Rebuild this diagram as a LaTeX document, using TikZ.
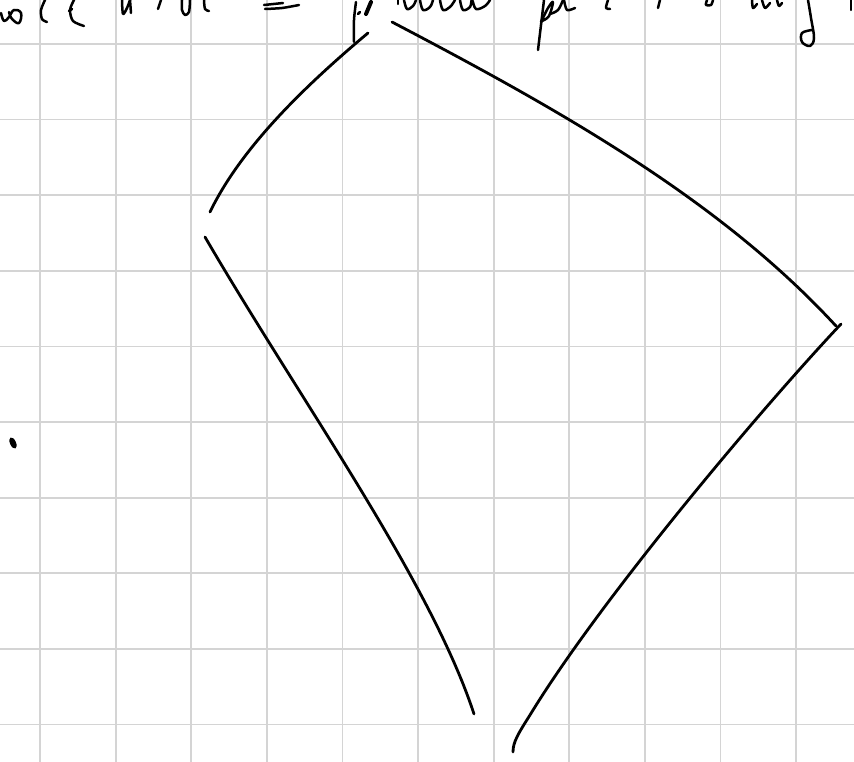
\documentclass[tikz,border=0pt]{standalone}
\begin{document}
\begin{tikzpicture}[x=1pt,y=-1pt,
  gridline/.style={draw={rgb,255:red,212;green,212;blue,212},line width=1.8pt},
  ink/.style={draw=black,line width=2.8pt,line cap=round,line join=round},
  pen/.style={draw=black,line width=2.5pt,line cap=round,line join=round}]
\useasboundingbox (0,0) rectangle (854,762);
\fill[white] (0,0) rectangle (854,762);
% grid
\foreach \k in {0,...,10} {\draw[gridline] ({40+75.6*\k},0) -- ({40+75.6*\k},762);}
\foreach \k in {0,...,9} {\draw[gridline] (0,{44+75.6*\k}) -- (854,{44+75.6*\k});}
% main strokes
\draw[ink] (368,33) .. controls (300,90) and (240,150) .. (210,212);
\draw[ink] (392,22) .. controls (560,110) and (720,200) .. (836,326);
\draw[ink] (205,237) .. controls (300,400) and (430,580) .. (474,714);
\draw[ink] (841,324) .. controls (760,410) and (600,600) .. (530,715) .. controls (518,734) and (513,742) .. (513,752);
% dot
\fill[black,rotate around={25:(13,443)}] (13,443) ellipse (3pt and 6pt);
% handwriting fragments (cropped at top)
\draw[pen] plot[smooth,tension=0.7] coordinates {(1,13) (4,21) (9,17) (14,10) (21,13) (19,23) (12,19) (9,12)};
\draw[pen] plot[smooth] coordinates {(45,0) (41,10) (42,19) (47,22)};
\draw[pen] plot[smooth] coordinates {(69,11) (72,9)};
\draw[pen] plot[smooth] coordinates {(74,0) (70,10) (73,21) (84,26)};
\draw[pen] plot[smooth,tension=0.5] coordinates {(122,0) (123,14) (127,8) (130,0)};
\draw[pen] (130,0) -- (131,13);
\draw[pen] (161,0) -- (158,9);
\draw[pen] plot[smooth] coordinates {(182,0) (182,10) (185,15) (189,12) (190,0)};
\draw[pen] plot[smooth] coordinates {(204,0) (205,9) (209,11)};
\draw[pen] (264,5) -- (283,3);
\draw[pen] plot[smooth] coordinates {(265,9) (282,8) (299,5)};
\draw[pen] plot[smooth] coordinates {(356,2) (354,20) (354,42)};
\draw[pen] plot[smooth] coordinates {(358,14) (360,12)};
\draw[black,line width=4pt,line cap=round] (371,2) -- (366,14);
\draw[pen] (398,0) -- (398,4);
\draw[pen] plot[smooth,tension=0.6] coordinates {(404,0) (407,9) (413,6) (416,0)};
\draw[pen] plot[smooth,tension=0.6] coordinates {(420,0) (423,10) (430,7) (433,0)};
\draw[pen] plot[smooth,tension=0.6] coordinates {(440,0) (443,10) (450,7) (455,0)};
\draw[pen] plot[smooth,tension=0.6] coordinates {(460,0) (463,10) (470,7) (472,0) (476,9) (485,6) (490,0)};
\draw[pen] plot[smooth] coordinates {(544,0) (541,25) (538,50)};
\draw[pen] plot[smooth,tension=0.6] coordinates {(541,22) (548,8) (553,2) (549,16) (542,21)};
\draw[pen] plot[smooth,tension=0.6] coordinates {(550,14) (558,10) (563,0)};
\draw[pen] plot[smooth] coordinates {(564,0) (567,10) (575,8)};
\draw[pen] plot[smooth] coordinates {(608,0) (606,8) (610,9)};
\draw[pen] plot[smooth] coordinates {(660,0) (658,8)};
\draw[pen] plot[smooth] coordinates {(707,0) (706,5) (711,5) (713,0)};
\draw[pen] plot[smooth] coordinates {(752,0) (753,8) (757,4)};
\draw[pen] plot[smooth] coordinates {(762,0) (765,8) (770,3)};
\draw[pen] plot[smooth] coordinates {(777,0) (779,6) (782,3)};
\draw[pen] plot[smooth,tension=0.6] coordinates {(808,0) (811,18) (814,38) (810,46) (802,42) (802,33) (812,30)};
\draw[pen] (851,0) -- (851,10);
\end{tikzpicture}
\end{document}
